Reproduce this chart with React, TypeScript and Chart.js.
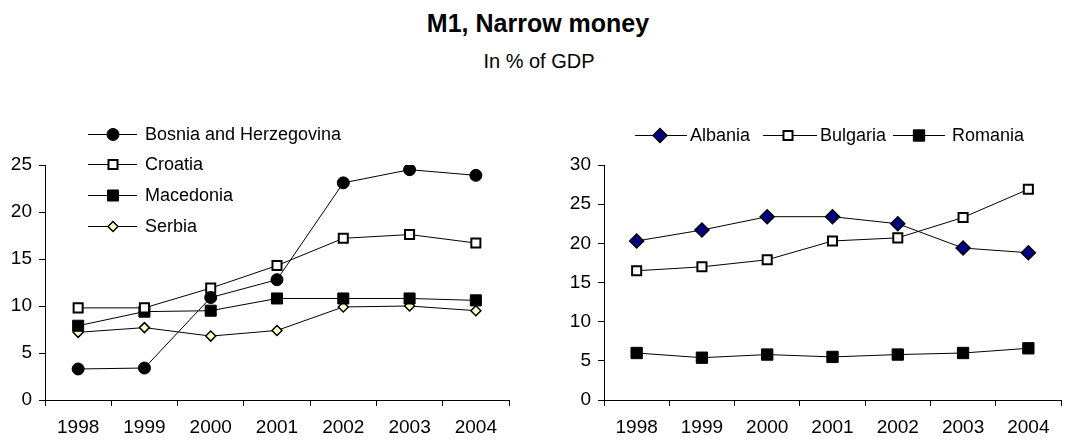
import React, { useEffect, useRef } from 'react';
import { Chart, registerables } from 'chart.js';
import { drawPoint } from 'chart.js/helpers';

Chart.register(...registerables);

// ---- data ----
const years = ['1998', '1999', '2000', '2001', '2002', '2003', '2004'];

const bosnia = [3.3, 3.4, 10.9, 12.8, 23.1, 24.5, 23.9];
const croatia = [9.8, 9.8, 11.9, 14.3, 17.2, 17.6, 16.7];
const macedonia = [7.9, 9.4, 9.5, 10.8, 10.8, 10.8, 10.6];
const serbia = [7.2, 7.7, 6.8, 7.4, 9.9, 10.0, 9.5];

const albania = [20.3, 21.7, 23.4, 23.4, 22.5, 19.4, 18.8];
const bulgaria = [16.5, 17.0, 17.9, 20.3, 20.7, 23.3, 26.9];
const romania = [6.0, 5.4, 5.8, 5.5, 5.8, 6.0, 6.6];

const leftMax = 25;
const rightMax = 30;
const tickStep = 5;

const FONT = '"Liberation Sans", Arial, Helvetica, sans-serif';

const legendPlugin = {
  id: 'customLegend',
  afterDraw(chart: any, _args: any, opts: any) {
    const ctx = chart.ctx;
    const items = opts.items || [];
    chart.data.datasets.forEach((ds: any, i: number) => {
      const it = items[i];
      if (!it) return;
      ctx.save();
      ctx.strokeStyle = ds.borderColor;
      ctx.lineWidth = ds.borderWidth;
      ctx.beginPath();
      ctx.moveTo(it.x0, it.y + 0.5);
      ctx.lineTo(it.x1, it.y + 0.5);
      ctx.stroke();
      ctx.fillStyle = ds.pointBackgroundColor;
      ctx.strokeStyle = ds.pointBorderColor;
      ctx.lineWidth = ds.pointBorderWidth;
      drawPoint(
        ctx,
        { pointStyle: ds.pointStyle, rotation: 0, radius: ds.pointRadius, borderWidth: ds.pointBorderWidth } as any,
        it.xm,
        it.y + 0.5
      );
      ctx.fillStyle = '#000';
      ctx.font = `18px ${FONT}`;
      ctx.textAlign = 'left';
      ctx.textBaseline = 'middle';
      ctx.fillText(ds.label, it.tx, it.y + 1);
      ctx.restore();
    });
  },
};

function series(label: string, data: number[], style: string, radius: number, fill: string, bw: number) {
  return {
    label,
    data,
    borderColor: '#000',
    borderWidth: 1,
    pointStyle: style,
    pointRadius: radius,
    pointHoverRadius: radius,
    pointBackgroundColor: fill,
    pointBorderColor: '#000',
    pointBorderWidth: bw,
    tension: 0,
    fill: false,
  };
}

function makeOptions(max: number, yWidth: number, padRight: number, legendItems: any[]) {
  return {
    responsive: false,
    animation: false as const,
    layout: { padding: { top: 65, left: 0, right: padRight, bottom: 0 } },
    plugins: {
      legend: { display: false },
      tooltip: { enabled: false },
      title: { display: false },
      customLegend: { items: legendItems },
    },
    scales: {
      x: {
        type: 'category' as const,
        offset: true,
        grid: {
          display: true,
          drawOnChartArea: false,
          drawTicks: true,
          tickLength: 6,
          color: '#000',
          offset: true,
        },
        border: { display: true, color: '#000', width: 1 },
        ticks: {
          color: '#000',
          font: { family: FONT, size: 19 },
          padding: 10,
          maxRotation: 0,
          autoSkip: false,
        },
        afterFit: (s: any) => {
          s.height = 41;
        },
      },
      y: {
        min: 0,
        max,
        grid: {
          display: true,
          drawOnChartArea: false,
          drawTicks: true,
          tickLength: 6,
          color: '#000',
        },
        border: { display: true, color: '#000', width: 1 },
        ticks: {
          stepSize: tickStep,
          color: '#000',
          font: { family: FONT, size: 19 },
          padding: 7,
        },
        afterFit: (s: any) => {
          s.width = yWidth;
        },
      },
    },
  };
}

export default function App() {
  const leftRef = useRef<HTMLCanvasElement>(null);
  const rightRef = useRef<HTMLCanvasElement>(null);

  useEffect(() => {
    const leftLegend = [
      { x0: 88, x1: 137, xm: 113, tx: 145, y: 34 },
      { x0: 88, x1: 137, xm: 113, tx: 145, y: 64 },
      { x0: 88, x1: 137, xm: 113, tx: 145, y: 95 },
      { x0: 88, x1: 137, xm: 113, tx: 145, y: 126 },
    ];
    const rightLegend = [
      { x0: 105, x1: 157, xm: 130, tx: 160, y: 35 },
      { x0: 233, x1: 287, xm: 258, tx: 290, y: 35 },
      { x0: 363, x1: 415, xm: 389, tx: 422, y: 35 },
    ];

    const left = new Chart(leftRef.current as HTMLCanvasElement, {
      type: 'line',
      data: {
        labels: years,
        datasets: [
          series('Bosnia and Herzegovina', bosnia, 'circle', 6, '#000', 1),
          series('Croatia', croatia, 'rect', 6.4, '#fff', 2),
          series('Macedonia', macedonia, 'rect', 7.8, '#000', 1),
          series('Serbia', serbia, 'rectRot', 5, '#FFFFCC', 1.5),
        ] as any,
      },
      options: makeOptions(leftMax, 45, 21, leftLegend) as any,
      plugins: [legendPlugin],
    });

    const right = new Chart(rightRef.current as HTMLCanvasElement, {
      type: 'line',
      data: {
        labels: years,
        datasets: [
          series('Albania', albania, 'rectRot', 7, '#000080', 1.5),
          series('Bulgaria', bulgaria, 'rect', 6.4, '#fff', 2),
          series('Romania', romania, 'rect', 8, '#000', 1),
        ] as any,
      },
      options: makeOptions(rightMax, 74, 2, rightLegend) as any,
      plugins: [legendPlugin],
    });

    return () => {
      left.destroy();
      right.destroy();
    };
  }, []);

  return (
    <div
      style={{
        position: 'absolute',
        left: 0,
        top: 0,
        width: 1066,
        height: 441,
        overflow: 'hidden',
        background: '#fff',
        fontFamily: FONT,
        color: '#000',
      }}
    >
      <div
        style={{
          position: 'absolute',
          left: 0,
          top: 11,
          width: 1076,
          textAlign: 'center',
          fontWeight: 'bold',
          fontSize: 25,
          lineHeight: '25px',
          whiteSpace: 'nowrap',
        }}
      >
        M1, Narrow money
      </div>
      <div
        style={{
          position: 'absolute',
          left: 0,
          top: 51,
          width: 1078,
          textAlign: 'center',
          fontSize: 20,
          lineHeight: '20px',
          whiteSpace: 'nowrap',
        }}
      >
        In % of GDP
      </div>
      <div style={{ position: 'absolute', left: 0, top: 100, width: 530, height: 341 }}>
        <canvas ref={leftRef} width={530} height={341} style={{ width: 530, height: 341, display: 'block' }} />
      </div>
      <div style={{ position: 'absolute', left: 530, top: 100, width: 540, height: 341 }}>
        <canvas ref={rightRef} width={540} height={341} style={{ width: 540, height: 341, display: 'block' }} />
      </div>
    </div>
  );
}
